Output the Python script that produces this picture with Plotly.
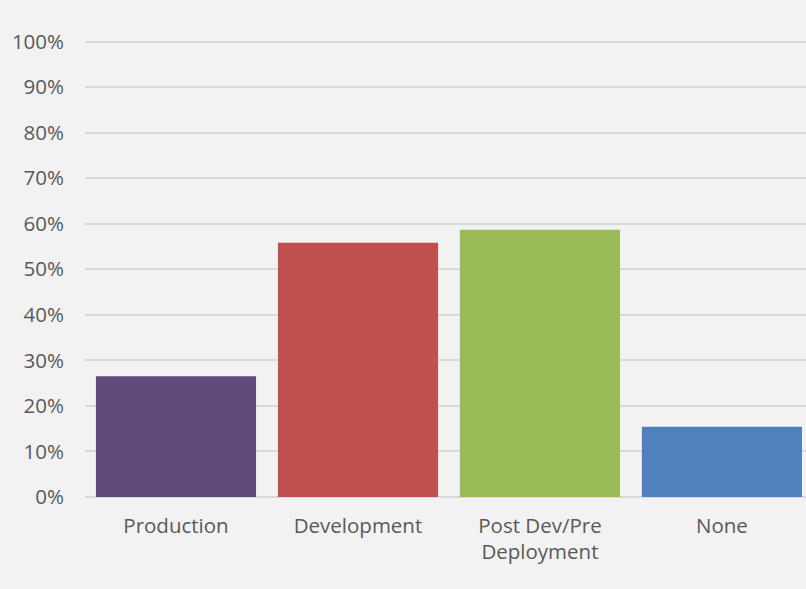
import plotly.graph_objects as go

categories = ["Production", "Development", "Post Dev/Pre<br>Deployment", "None"]
values = [0.265, 0.558, 0.587, 0.154]
colors = ["#604a7b", "#c0504d", "#9bbb59", "#4f81bd"]
ytick_vals = [i / 10 for i in range(11)]
ytick_text = [f"{i*10}%" for i in range(11)]

fig = go.Figure(go.Bar(x=categories, y=values, marker=dict(color=colors, line=dict(width=0)),
                       hoverinfo="skip"))

font = dict(family="Open Sans", size=20.5, color="#595959")
fig.update_layout(
    width=806, height=589,
    margin=dict(l=85, r=0, t=37, b=92),
    paper_bgcolor="#f2f2f2", plot_bgcolor="#f2f2f2",
    bargap=0.12,
    showlegend=False,
    font=font,
)
fig.update_xaxes(type="category", range=[-0.5, 3.462], showgrid=False, showline=False,
                 ticks="", tickfont=font, ticklabelstandoff=14, zeroline=False)
fig.update_yaxes(range=[0, 1.01], tickvals=ytick_vals, ticktext=ytick_text,
                 showgrid=True, gridcolor="#d9d9d9", gridwidth=1.5,
                 zeroline=True, zerolinecolor="#d9d9d9", zerolinewidth=2,
                 showline=False, ticks="", tickfont=font, ticklabelstandoff=20)
fig.write_html("out.html")
